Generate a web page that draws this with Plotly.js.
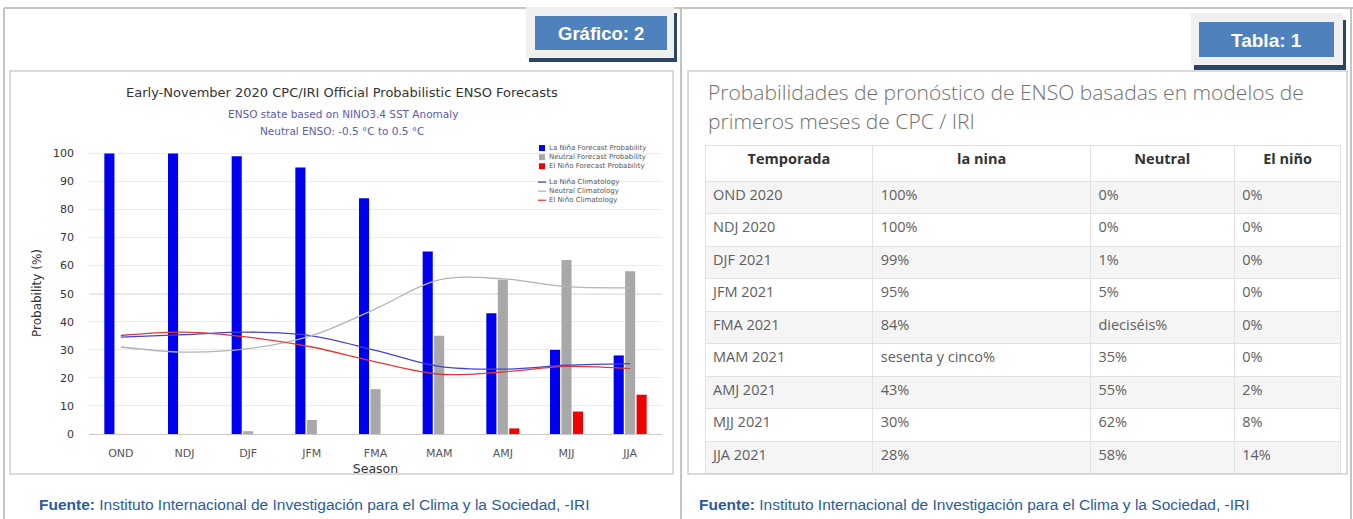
<!DOCTYPE html>
<html>
<head>
<meta charset="utf-8">
<script src="https://cdn.plot.ly/plotly-3.0.1.min.js"></script>
<style>
html,body{margin:0;padding:0;background:#fff;}
#fig{width:1353px;height:519px;}
</style>
</head>
<body>
<div id="fig"></div>
<script>
// ---------- data ----------
const seasons = ['OND','NDJ','DJF','JFM','FMA','MAM','AMJ','MJJ','JJA'];
const laNinaProb = [100,100,99,95,84,65,43,30,28];
const neutralProb = [0,0,1,5,16,35,55,62,58];
const elNinoProb = [0,0,0,0,0,0,2,8,14];
const laNinaClim = [34.5,35.4,36.3,35.0,29.8,24.1,23.1,24.5,25.1];
const neutralClim = [31.0,29.2,30.4,35.1,44.6,54.9,55.3,52.5,52.1];
const elNinoClim = [35.1,36.3,34.5,31.0,25.7,21.3,22.1,24.1,23.3];
const yTicks = [0,10,20,30,40,50,60,70,80,90,100];
const legendLabels = ['La Niña Forecast Probability','Neutral Forecast Probability','El Niño Forecast Probability',
                      'La Niña Climatology','Neutral Climatology','El Niño Climatology'];

const tableHeaders = ['Temporada','la nina','Neutral','El niño'];
const tableSeasons = ['OND 2020','NDJ 2020','DJF 2021','JFM 2021','FMA 2021','MAM 2021','AMJ 2021','MJJ 2021','JJA 2021'];
const tableLaNina = ['100%','100%','99%','95%','84%','sesenta y cinco%','43%','30%','28%'];
const tableNeutral = ['0%','0%','1%','5%','dieciséis%','35%','55%','62%','58%'];
const tableElNino = ['0%','0%','0%','0%','0%','0%','2%','8%','14%'];

const chartTitle = 'Early-November 2020 CPC/IRI Official Probabilistic ENSO Forecasts';
const chartSub1 = 'ENSO state based on NINO3.4 SST Anomaly';
const chartSub2 = 'Neutral ENSO: -0.5 °C to 0.5 °C';
const tableTitle1 = 'Probabilidades de pronóstico de ENSO basadas en modelos de';
const tableTitle2 = 'primeros meses de CPC / IRI';
const sourceText = '<b>Fuente:</b> Instituto Internacional de Investigación para el Clima y la Sociedad, -IRI';

// ---------- helpers (pixel -> paper) ----------
const W = 1353, H = 519;
const px = x => x / W;
const py = y => 1 - y / H;

const colBlue = '#0000f0', colGray = '#a8a8a8', colRed = '#f00000';
const climBlue = '#4545c8', climGray = '#b4b4b4', climRed = '#e23a3a';

// ---------- traces ----------
const traces = [
  {type:'bar', x:seasons, y:laNinaProb, marker:{color:colBlue}, name:legendLabels[0], xaxis:'x', yaxis:'y', showlegend:false},
  {type:'bar', x:seasons, y:neutralProb, marker:{color:colGray}, name:legendLabels[1], xaxis:'x', yaxis:'y', showlegend:false},
  {type:'bar', x:seasons, y:elNinoProb, marker:{color:colRed}, name:legendLabels[2], xaxis:'x', yaxis:'y', showlegend:false},
  {type:'scatter', mode:'lines', x:seasons, y:laNinaClim, line:{color:climBlue, width:1.3, shape:'spline', smoothing:1}, name:legendLabels[3], showlegend:false},
  {type:'scatter', mode:'lines', x:seasons, y:neutralClim, line:{color:climGray, width:1.3, shape:'spline', smoothing:1}, name:legendLabels[4], showlegend:false},
  {type:'scatter', mode:'lines', x:seasons, y:elNinoClim, line:{color:climRed, width:1.3, shape:'spline', smoothing:1}, name:legendLabels[5], showlegend:false},
  {
    type:'table',
    domain:{x:[px(705), px(1342)], y:[py(478), py(145)]},
    columnwidth:[168,218,144,107],
    header:{
      values:tableHeaders,
      align:'center',
      height:36,
      fill:{color:'#ffffff'},
      line:{color:'#e2e2e2', width:1},
      font:{family:'Open Sans', size:14.5, color:'#333333', weight:'bold'}
    },
    cells:{
      values:[tableSeasons, tableLaNina, tableNeutral, tableElNino],
      align:'left',
      height:32.5,
      fill:{color:[0,1,2,3].map(() => tableSeasons.map((_, i) => i % 2 === 0 ? '#f5f5f5' : '#ffffff'))},
      line:{color:'#e2e2e2', width:1},
      font:{family:'Open Sans', size:14.5, color:'#606060'}
    }
  }
];

// ---------- frames, badges, legend marks ----------
const shapes = [
  {type:'line', xref:'paper', yref:'paper', x0:px(4), x1:px(1353), y0:py(8), y1:py(8), line:{color:'#c4c4c4', width:2}},
  {type:'line', xref:'paper', yref:'paper', x0:px(4), x1:px(4), y0:py(8), y1:py(519), line:{color:'#c4c4c4', width:2}},
  {type:'line', xref:'paper', yref:'paper', x0:px(681), x1:px(681), y0:py(8), y1:py(519), line:{color:'#c4c4c4', width:2}},
  {type:'line', xref:'paper', yref:'paper', x0:px(1351), x1:px(1351), y0:py(8), y1:py(519), line:{color:'#c4c4c4', width:2}},
  {type:'rect', xref:'paper', yref:'paper', x0:px(10), x1:px(673), y0:py(474), y1:py(71), line:{color:'#cfcfcf', width:1.5}},
  {type:'rect', xref:'paper', yref:'paper', x0:px(688), x1:px(1347), y0:py(474), y1:py(71), line:{color:'#cfcfcf', width:1.5}},
  {type:'rect', xref:'paper', yref:'paper', x0:px(529), x1:px(677), y0:py(62), y1:py(13), fillcolor:'#2b4468', line:{width:0}},
  {type:'rect', xref:'paper', yref:'paper', x0:px(526), x1:px(674), y0:py(58), y1:py(7), fillcolor:'#f0f0f0', line:{width:0}},
  {type:'rect', xref:'paper', yref:'paper', x0:px(535), x1:px(667), y0:py(50), y1:py(16), fillcolor:'#4f81bd', line:{width:0}},
  {type:'rect', xref:'paper', yref:'paper', x0:px(1194), x1:px(1346), y0:py(70), y1:py(20), fillcolor:'#2b4468', line:{width:0}},
  {type:'rect', xref:'paper', yref:'paper', x0:px(1191), x1:px(1343), y0:py(65), y1:py(13), fillcolor:'#f0f0f0', line:{width:0}},
  {type:'rect', xref:'paper', yref:'paper', x0:px(1199), x1:px(1334), y0:py(57), y1:py(22), fillcolor:'#4f81bd', line:{width:0}},
  {type:'line', xref:'x domain', yref:'y', x0:0, x1:1, y0:50, y1:50, line:{color:'#9a9a9a', width:1.2}, layer:'below'}
];

// legend: two text blocks (one per group), marks beside each line
const legFont = 7;
const legLine = legFont * 1.3;
const legTop = [143, 177];
const legColors = [colBlue, colGray, colRed, climBlue, climGray, climRed];
legendLabels.forEach((lab, i) => {
  const g = i < 3 ? 0 : 1;
  const yc = legTop[g] + legLine * ((i % 3) + 0.5) + 0.5;
  if (g === 0) {
    shapes.push({type:'rect', xref:'paper', yref:'paper', x0:px(539), x1:px(545), y0:py(yc+3), y1:py(yc-3), fillcolor:legColors[i], line:{width:0}});
  } else {
    shapes.push({type:'line', xref:'paper', yref:'paper', x0:px(538), x1:px(546), y0:py(yc), y1:py(yc), line:{color:legColors[i], width:1.3}});
  }
});

// ---------- annotations ----------
const annotations = [
  {xref:'paper', yref:'paper', x:px(601), y:py(33), text:'Gráfico: 2', showarrow:false, xanchor:'center', yanchor:'middle',
   font:{family:'Liberation Sans, Arial, sans-serif', size:18.5, color:'#ffffff', weight:'bold'}},
  {xref:'paper', yref:'paper', x:px(1266.5), y:py(40), text:'Tabla: 1', showarrow:false, xanchor:'center', yanchor:'middle',
   font:{family:'Liberation Sans, Arial, sans-serif', size:19, color:'#ffffff', weight:'bold'}},
  {xref:'paper', yref:'paper', x:px(342), y:py(93), text:chartTitle, showarrow:false, xanchor:'center', yanchor:'middle',
   font:{family:'DejaVu Sans', size:13, color:'#333333'}},
  {xref:'paper', yref:'paper', x:px(343), y:py(114), text:chartSub1, showarrow:false, xanchor:'center', yanchor:'middle',
   font:{family:'DejaVu Sans', size:10.5, color:'#5b5bb0'}},
  {xref:'paper', yref:'paper', x:px(342), y:py(131), text:chartSub2, showarrow:false, xanchor:'center', yanchor:'middle',
   font:{family:'DejaVu Sans', size:10.5, color:'#5b5bb0'}},
  {xref:'paper', yref:'paper', x:px(706), y:py(92), text:tableTitle1, showarrow:false, xanchor:'left', yanchor:'middle',
   font:{family:'Open Sans', size:21, color:'#707070', weight:300}},
  {xref:'paper', yref:'paper', x:px(706), y:py(121), text:tableTitle2, showarrow:false, xanchor:'left', yanchor:'middle',
   font:{family:'Open Sans', size:21, color:'#707070', weight:300}},
  {xref:'paper', yref:'paper', x:px(37), y:py(504), text:sourceText, showarrow:false, xanchor:'left', yanchor:'middle',
   font:{family:'Liberation Sans Narrow, Arial Narrow, Liberation Sans, sans-serif', size:15.5, color:'#2a5c9c'}},
  {xref:'paper', yref:'paper', x:px(697), y:py(504), text:sourceText, showarrow:false, xanchor:'left', yanchor:'middle',
   font:{family:'Liberation Sans Narrow, Arial Narrow, Liberation Sans, sans-serif', size:15.5, color:'#2a5c9c'}},
  {xref:'paper', yref:'paper', x:px(548), y:py(legTop[0]), text:legendLabels.slice(0,3).join('<br>'), showarrow:false,
   xanchor:'left', yanchor:'top', align:'left', borderpad:0,
   font:{family:'DejaVu Sans', size:legFont, color:'#555555'}},
  {xref:'paper', yref:'paper', x:px(548), y:py(legTop[1]), text:legendLabels.slice(3).join('<br>'), showarrow:false,
   xanchor:'left', yanchor:'top', align:'left', borderpad:0,
   font:{family:'DejaVu Sans', size:legFont, color:'#555555'}}
];

// ---------- layout ----------
const layout = {
  width:W, height:H,
  margin:{l:0, r:0, t:0, b:0},
  paper_bgcolor:'#ffffff', plot_bgcolor:'#ffffff',
  showlegend:false,
  barmode:'group', bargap:0.46, bargroupgap:0.12,
  xaxis:{
    domain:[px(89), px(662)],
    type:'category', categoryorder:'array', categoryarray:seasons,
    range:[-0.5, 8.5],
    showgrid:false, zeroline:false, showline:true, linecolor:'#c8c8c8', linewidth:1,
    ticks:'', ticklabelstandoff:9,
    tickfont:{family:'DejaVu Sans', size:11, color:'#555555'},
    title:{text:'Season', font:{family:'DejaVu Sans', size:12.5, color:'#333333'}, standoff:5},
    automargin:false, fixedrange:true
  },
  yaxis:{
    domain:[py(434), py(152)],
    range:[0, 100.5],
    tickvals:yTicks, ticktext:yTicks.map(String),
    showgrid:true, gridcolor:'#ececec', gridwidth:1,
    zeroline:false, showline:false,
    ticks:'', ticklabelstandoff:14,
    tickfont:{family:'DejaVu Sans', size:11, color:'#333333'},
    title:{text:'Probability (%)', font:{family:'DejaVu Sans', size:12, color:'#333333'}, standoff:8},
    automargin:false, fixedrange:true
  },
  shapes:shapes,
  annotations:annotations
};

Plotly.newPlot('fig', traces, layout, {staticPlot:true, displayModeBar:false});
</script>
</body>
</html>
